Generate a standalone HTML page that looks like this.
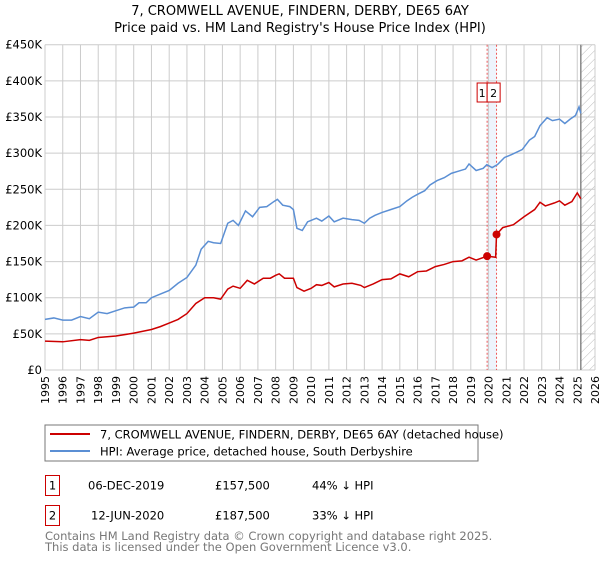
<!DOCTYPE html>
<html><head><meta charset="utf-8"><style>
body{margin:0;background:#fff;font-family:"DejaVu Sans","Liberation Sans",sans-serif;}
svg text{font-family:"DejaVu Sans","Liberation Sans",sans-serif;}
</style></head><body>
<svg id="chart" width="600" height="560" xmlns="http://www.w3.org/2000/svg">
<defs><pattern id="hatch" width="6" height="6" patternUnits="userSpaceOnUse" patternTransform="rotate(45)"><line x1="0" y1="0" x2="0" y2="6" stroke="#bbb" stroke-width="1"/></pattern></defs>
<text x="300" y="15" text-anchor="middle" font-size="13">7, CROMWELL AVENUE, FINDERN, DERBY, DE65 6AY</text>
<text x="300" y="32" text-anchor="middle" font-size="13">Price paid vs. HM Land Registry's House Price Index (HPI)</text>
<g id="grid"></g><g id="series"></g>
<rect x="45" y="425" width="433" height="36" fill="#fff" stroke="#777"/>
<line x1="50" y1="434" x2="90" y2="434" stroke="#cc0000" stroke-width="2"/>
<text x="100" y="438.5" font-size="11.5">7, CROMWELL AVENUE, FINDERN, DERBY, DE65 6AY (detached house)</text>
<line x1="50" y1="451" x2="90" y2="451" stroke="#5b8fd4" stroke-width="2"/>
<text x="100" y="455.5" font-size="11.5">HPI: Average price, detached house, South Derbyshire</text>
<g font-size="11.5">
<rect x="45.5" y="475.5" width="14" height="20" fill="none" stroke="#cc0000"/><text x="52.5" y="489.5" text-anchor="middle">1</text>
<text x="88" y="489.5">06-DEC-2019</text><text x="215" y="489.5">£157,500</text><text x="312" y="489.5">44% ↓ HPI</text></g>
<g font-size="11.5">
<rect x="45.5" y="505.5" width="14" height="20" fill="none" stroke="#cc0000"/><text x="52.5" y="519.5" text-anchor="middle">2</text>
<text x="91" y="519.5">12-JUN-2020</text><text x="215" y="519.5">£187,500</text><text x="312" y="519.5">33% ↓ HPI</text></g>
<text x="45" y="540" font-size="11.5" fill="#777">Contains HM Land Registry data © Crown copyright and database right 2025.</text>
<text x="45" y="551" font-size="11.5" fill="#777">This data is licensed under the Open Government Licence v3.0.</text>
</svg>
<script>
const yearTicks=[1995,1996,1997,1998,1999,2000,2001,2002,2003,2004,2005,2006,2007,2008,2009,2010,2011,2012,2013,2014,2015,2016,2017,2018,2019,2020,2021,2022,2023,2024,2025,2026];
const valueTicks=[0,50000,100000,150000,200000,250000,300000,350000,400000,450000];
const valueTickLabels=["£0","£50K","£100K","£150K","£200K","£250K","£300K","£350K","£400K","£450K"];
const hpiDates=[1995.0,1995.5,1996,1996.5,1997,1997.5,1998,1998.5,1999,1999.5,2000,2000.3,2000.7,2001,2001.5,2002,2002.5,2003,2003.5,2003.8,2004.2,2004.5,2004.9,2005.3,2005.6,2005.9,2006.3,2006.7,2007.1,2007.5,2007.9,2008.1,2008.4,2008.8,2009.0,2009.2,2009.5,2009.8,2010.3,2010.6,2011.0,2011.3,2011.8,2012.3,2012.7,2013.0,2013.3,2013.6,2014.0,2014.5,2015,2015.4,2015.7,2016.0,2016.4,2016.7,2017.1,2017.5,2017.9,2018.3,2018.7,2018.9,2019.3,2019.7,2019.9,2020.2,2020.5,2020.9,2021.3,2021.9,2022.3,2022.6,2022.9,2023.3,2023.6,2024.0,2024.3,2024.6,2024.9,2025.1,2025.2];
const hpiValues=[70,72,69,69,74,71,80,78,82,86,87,93,93,100,105,110,120,128,145,167,178,176,175,203,207,200,220,212,225,226,233,236,228,226,222,196,193,205,210,206,213,205,210,208,207,203,210,214,218,222,226,234,239,243,248,256,262,266,272,275,278,285,276,279,284,280,284,294,298,305,318,323,338,349,345,347,341,347,352,364,355];
const priceDates=[1995,1996,1997,1997.5,1998,1999,2000,2001,2001.5,2002,2002.5,2003,2003.5,2004,2004.5,2004.9,2005.3,2005.6,2006,2006.4,2006.8,2007.3,2007.7,2008,2008.2,2008.5,2009,2009.2,2009.6,2010,2010.3,2010.6,2011,2011.3,2011.8,2012.3,2012.8,2013.0,2013.5,2014,2014.5,2015,2015.5,2016,2016.5,2017,2017.5,2018,2018.5,2018.9,2019.3,2019.92,2020.4,2020.45,2020.8,2021.4,2022,2022.6,2022.9,2023.2,2023.7,2024,2024.3,2024.7,2025.0,2025.2];
const priceValues=[40,39,42,41,45,47,51,56,60,65,70,78,92,100,100,98,112,116,113,124,119,127,127,131,133,127,127,114,109,113,118,117,121,115,119,120,117,114,119,125,126,133,129,136,137,143,146,150,151,156,152,157.5,156,187.5,197,201,212,222,232,227,231,234,228,233,245,237];
const saleDates=[2019.92,2020.45];
const saleValues=[157500,187500];
const saleLabels=["1","2"];
const X0=45,X1=595,Y0=370,Y1=44.7;
const xs=y=>X0+(y-1995)/(2026-1995)*(X1-X0);
const ys=v=>Y0-v/450000*(Y0-Y1);
const NS="http://www.w3.org/2000/svg";
function mk(tag,attrs,parent){const e=document.createElementNS(NS,tag);for(const k in attrs)e.setAttribute(k,attrs[k]);parent.appendChild(e);return e;}
const grid=document.getElementById('grid'),ser=document.getElementById('series');
const hs=mk('rect',{x:xs(2025.2),y:Y1,width:X1-xs(2025.2),height:Y0-Y1,fill:'url(#hatch)'},grid);


const band=mk('rect',{x:xs(saleDates[0]),y:Y1,width:xs(saleDates[1])-xs(saleDates[0]),height:Y0-Y1,fill:'#eef4fc'},grid);


yearTicks.forEach(t=>{const x=xs(t);
 const l=mk('line',{x1:x,y1:Y1,x2:x,y2:Y0,stroke:'#ccc'},grid);
 
 
 const tx=mk('text',{x:0,y:0,'font-size':11,'text-anchor':'end',transform:`translate(${x+4},${Y0+6}) rotate(-90)`},grid);
 tx.textContent=t;
 
 
});
valueTicks.forEach((v,i)=>{const y=ys(v);
 const l=mk('line',{x1:X0,y1:y,x2:X1,y2:y,stroke:'#ccc'},grid);
 
 
 const tx=mk('text',{x:X0-3,y:y+4,'font-size':11.5,'text-anchor':'end'},grid);
 tx.textContent=valueTickLabels[i];
 
 
});
const vl=mk('line',{x1:xs(2025.2),y1:Y1,x2:xs(2025.2),y2:Y0,stroke:'#888','stroke-width':1.5},grid);


saleDates.forEach((d,i)=>{const x=xs(d);
 const l=mk('line',{x1:x,y1:Y1,x2:x,y2:Y0,stroke:'#e55','stroke-dasharray':'2,2'},grid);
 
 
});
const hp=mk('polyline',{points:hpiDates.map((d,i)=>xs(d)+','+ys(hpiValues[i]*1000)).join(' '),fill:'none',stroke:'#5b8fd4','stroke-width':1.5},ser);


const pp=mk('polyline',{points:priceDates.map((d,i)=>xs(d)+','+ys(priceValues[i]*1000)).join(' '),fill:'none',stroke:'#cc0000','stroke-width':1.5},ser);


const x1s=xs(saleDates[0]);
saleDates.forEach((d,i)=>{
 const c=mk('circle',{cx:xs(d),cy:ys(saleValues[i]),r:4,fill:'#cc0000'},ser);
 
 
 const w=i==0?10:13, bx=i==0?x1s-10:x1s;
 const r=mk('rect',{x:bx,y:83,width:w,height:19,fill:'#fff',stroke:'#cc0000'},ser);
 
 
 const t=mk('text',{x:bx+w/2,y:97,'font-size':11,'text-anchor':'middle'},ser);
 t.textContent=saleLabels[i];
 
 
});
</script>
</body></html>
